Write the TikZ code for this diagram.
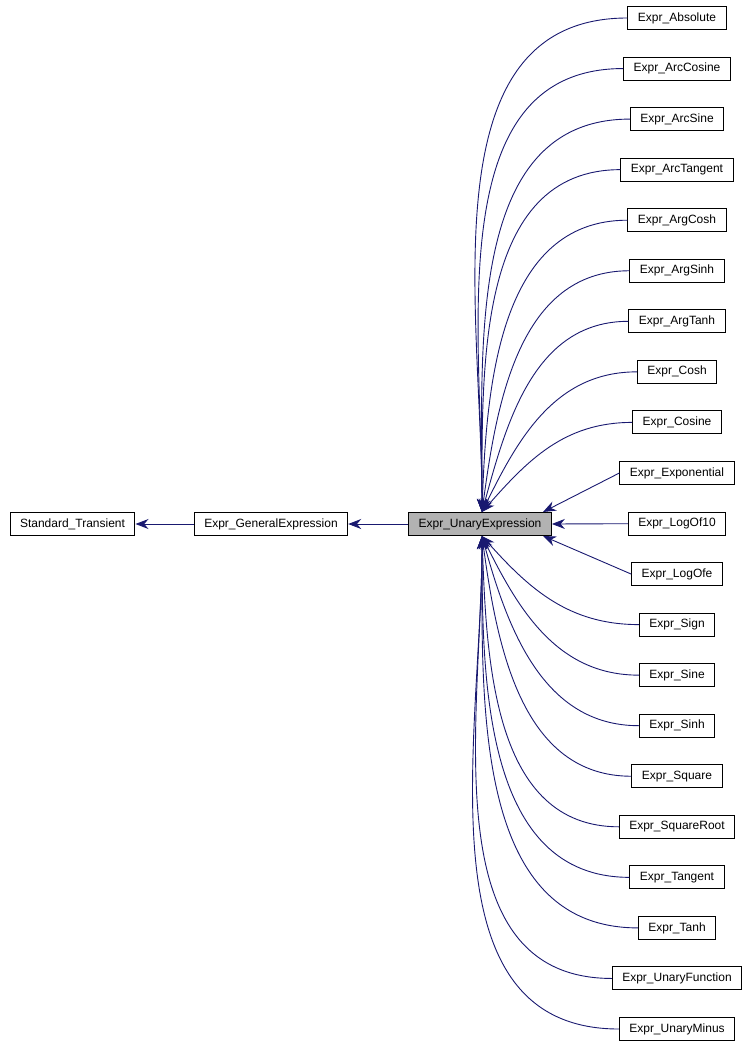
\documentclass[tikz,border=0pt]{standalone}
\usepackage{fontspec}
\setmainfont{Liberation Sans}
\usetikzlibrary{arrows.meta,positioning}
\definecolor{edgeblue}{RGB}{25,25,112}
\tikzset{
  cls/.style={draw, line width=1pt, fill=white, minimum height=23pt, inner xsep=10pt,
    font=\fontsize{12}{14}\selectfont},
  inherit/.style={edgeblue, line width=0.9pt, -{Stealth[length=13pt,width=10pt]}}
}
\begin{document}
\begin{tikzpicture}[x=1pt,y=1pt]
  \useasboundingbox (0,0) rectangle (753,-1051);

  % Basisklassen
  \node[cls] (trans) at (72.5,-524) {Standard\_Transient};
  \node[cls] (gen) at (271,-524) {Expr\_GeneralExpression};
  \node[cls, fill=black!30] (unary) at (480,-524) {Expr\_UnaryExpression};
  \draw[inherit] (gen) -- (trans);
  \draw[inherit] (unary) -- (gen);

  % Ableitungen
  \foreach \n [count=\r from 0] in {Absolute,ArcCosine,ArcSine,ArcTangent,
      ArgCosh,ArgSinh,ArgTanh,Cosh,Cosine,Exponential,LogOf10,LogOfe,Sign,
      Sine,Sinh,Square,SquareRoot,Tangent,Tanh,UnaryFunction,UnaryMinus}
  {
    \node[cls] (c\r) at (677,-18-50.55*\r) {Expr\_\n};
  }

  \foreach \r in {0,...,20}
  {
    \pgfmathsetmacro{\dy}{506-50.55*\r}
    \ifnum\r=10
      \draw[inherit] (c\r) -- (unary.east);
    \else\ifnum\r=9
      \draw[inherit] (c\r.west) -- (543,-512);
    \else\ifnum\r=11
      \draw[inherit] (c\r.west) -- (543,-536);
    \else
      \pgfmathsetmacro{\ang}{min(90,1.35*atan2(abs(\dy),140))}
      \pgfmathsetmacro{\inang}{\dy>0 ? \ang : -\ang}
      \pgfmathsetmacro{\ey}{\dy>0 ? -512 : -536}
      \draw[inherit] (c\r.west) to[out=180, in=\inang] (482,\ey);
    \fi\fi\fi
  }
\end{tikzpicture}
\end{document}
